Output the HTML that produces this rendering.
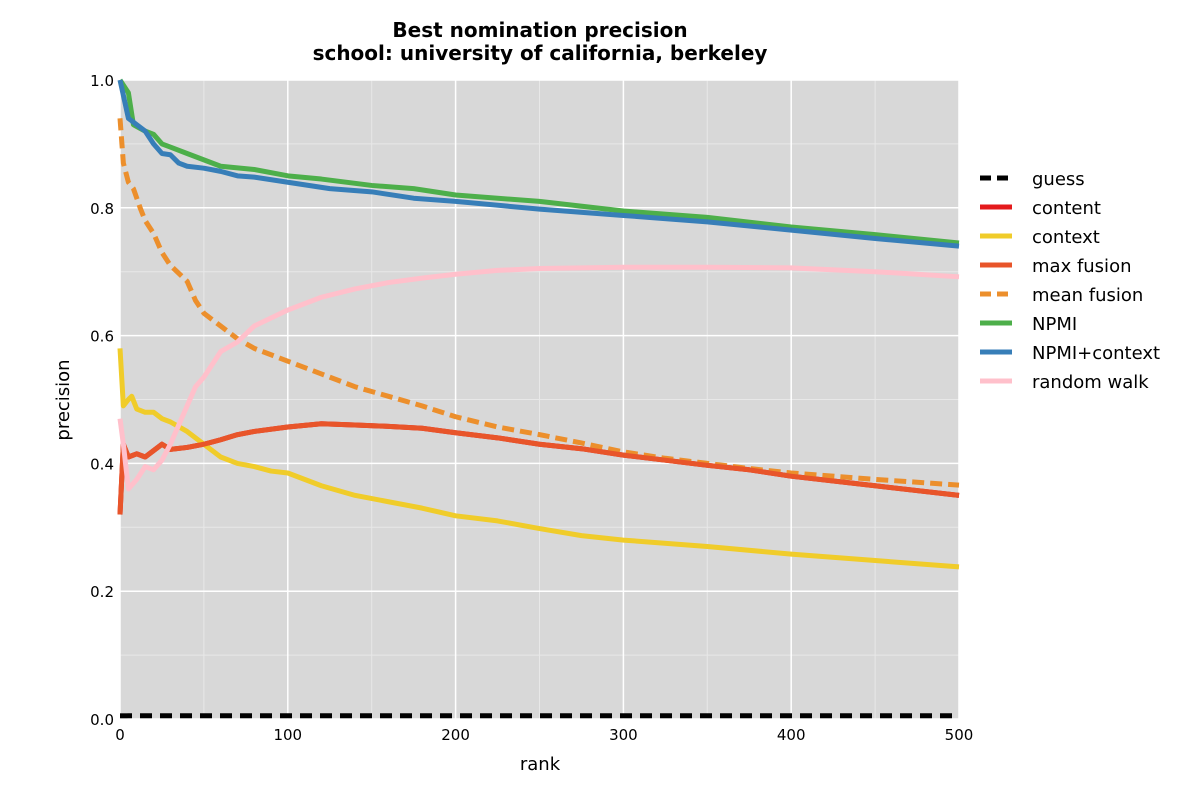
<!DOCTYPE html>
<html><head><meta charset="utf-8"><style>
body{margin:0;background:#fff;}
svg{font-family:"DejaVu Sans","Liberation Sans",sans-serif;}
</style></head><body>
<svg id="chart" width="1200" height="800" xmlns="http://www.w3.org/2000/svg"></svg>
<script>
const xTicks=[0,100,200,300,400,500];
const yTicks=[0.0,0.2,0.4,0.6,0.8,1.0];
const seriesNames=["guess","content","context","max fusion","mean fusion","NPMI","NPMI+context","random walk"];
const guessX=[0,500];const guessY=[0.005,0.005];
const maxX=[0,2,5,10,15,20,25,30,40,50,60,70,80,100,120,140,160,180,200,225,250,275,300,325,350,375,400,450,500];
const maxY=[0.32,0.43,0.41,0.415,0.41,0.42,0.43,0.422,0.425,0.43,0.437,0.445,0.45,0.457,0.462,0.46,0.458,0.455,0.448,0.44,0.43,0.423,0.413,0.405,0.397,0.39,0.38,0.365,0.35];
const contentX=maxX;const contentY=maxY;
const contextX=[0,2,5,7,10,15,20,25,30,40,50,60,70,80,90,100,120,140,160,180,200,225,250,275,300,350,400,450,500];
const contextY=[0.58,0.49,0.5,0.505,0.485,0.48,0.48,0.47,0.465,0.45,0.43,0.41,0.40,0.395,0.388,0.385,0.365,0.35,0.34,0.33,0.318,0.31,0.298,0.287,0.28,0.27,0.258,0.248,0.238];
const meanX=[0,2,5,8,12,15,20,25,30,40,45,50,60,70,80,90,100,120,140,160,180,200,225,250,275,300,325,350,375,400,450,500];
const meanY=[0.94,0.87,0.84,0.83,0.8,0.78,0.76,0.73,0.71,0.685,0.655,0.635,0.615,0.595,0.58,0.57,0.56,0.54,0.52,0.505,0.49,0.473,0.457,0.445,0.432,0.418,0.408,0.4,0.392,0.385,0.375,0.366];
const npmiX=[0,5,8,15,20,25,30,40,50,60,80,100,120,150,175,200,250,300,350,400,450,500];
const npmiY=[1.0,0.98,0.93,0.92,0.915,0.90,0.895,0.885,0.875,0.865,0.86,0.85,0.845,0.835,0.83,0.82,0.81,0.795,0.785,0.77,0.758,0.745];
const npmicX=[0,5,10,15,20,25,30,35,40,50,60,70,80,100,125,150,175,200,250,300,350,400,450,500];
const npmicY=[1.0,0.94,0.93,0.92,0.90,0.885,0.883,0.87,0.865,0.862,0.857,0.85,0.848,0.84,0.83,0.825,0.815,0.81,0.798,0.788,0.778,0.765,0.752,0.74];
const rwX=[0,2,5,10,15,20,25,30,35,40,45,50,55,60,70,80,100,120,140,160,180,200,225,250,300,350,400,450,500];
const rwY=[0.47,0.43,0.36,0.375,0.395,0.39,0.405,0.43,0.46,0.49,0.52,0.535,0.555,0.575,0.59,0.615,0.64,0.66,0.673,0.683,0.69,0.696,0.702,0.705,0.707,0.707,0.706,0.7,0.692];

const L=120,R=959,T=80,B=719;
const sx=v=>L+(v-0)/(500-0)*(R-L);
const sy=v=>B-(v-0)/(1-0)*(B-T);
const svg=document.getElementById('chart');
const NS="http://www.w3.org/2000/svg";
function mk(tag,attrs,parent){const e=document.createElementNS(NS,tag);for(const k in attrs)e.setAttribute(k,attrs[k]);(parent||svg).appendChild(e);return e;}
const bg=mk('rect',{x:L,y:T,width:R-L,height:B-T,fill:'#d8d8d8'});


for(let v=50;v<500;v+=100){const g=mk('line',{x1:sx(v),x2:sx(v),y1:T,y2:B,stroke:'#e8e8e8','stroke-width':1});}
for(let v=0.1;v<1;v+=0.2){const g=mk('line',{x1:L,x2:R,y1:sy(v),y2:sy(v),stroke:'#e8e8e8','stroke-width':1});}
xTicks.forEach(v=>{const g=mk('line',{x1:sx(v),x2:sx(v),y1:T,y2:B,stroke:'#fff','stroke-width':1.5});
const t=mk('text',{x:sx(v),y:B+21,'text-anchor':'middle','font-size':15,fill:'#000'});t.textContent=v;});
yTicks.forEach(v=>{const g=mk('line',{x1:L,x2:R,y1:sy(v),y2:sy(v),stroke:'#fff','stroke-width':1.5});
const t=mk('text',{x:L-6,y:sy(v)+6,'text-anchor':'end','font-size':15,fill:'#000'});t.textContent=v.toFixed(1);});
const styles=[
 [guessX,guessY,'#000','12,8'],
 [contentX,contentY,'#e41a1c',''],
 [contextX,contextY,'#f0cc2a',''],
 [maxX,maxY,'#e8552a',''],
 [meanX,meanY,'#ec8f2c','12,6'],
 [npmiX,npmiY,'#4daf4a',''],
 [npmicX,npmicY,'#377eb8',''],
 [rwX,rwY,'#ffc0cb','']];
const order=[1,2,4,3,7,5,6,0];
order.forEach(i=>{const [xs,ys,c,d]=styles[i];
 const p=mk('polyline',{points:xs.map((x,j)=>sx(x)+','+sy(ys[j])).join(' '),fill:'none',stroke:c,'stroke-width':5,'stroke-dasharray':d,'stroke-linejoin':'round'});
 
 });
seriesNames.forEach((n,i)=>{const y=178+i*29;const [,,c,d]=styles[i];
 const g=mk('g',{});
 mk('line',{x1:980,x2:1012,y1:y,y2:y,stroke:c,'stroke-width':5,'stroke-dasharray':d?'11,6':''},g);
 const t=mk('text',{x:1032,y:y+7,'font-size':18,fill:'#000'},g);t.textContent=n;});
const t1=mk('text',{x:540,y:37,'text-anchor':'middle','font-size':20,'font-weight':'bold'});t1.textContent='Best nomination precision';
const t2=mk('text',{x:540,y:60,'text-anchor':'middle','font-size':20,'font-weight':'bold'});t2.textContent='school: university of california, berkeley';
const xl=mk('text',{x:540,y:770,'text-anchor':'middle','font-size':18});xl.textContent='rank';
const yl=mk('text',{x:69,y:400,'text-anchor':'middle','font-size':18,transform:'rotate(-90 69 400)'});yl.textContent='precision';
</script>
</body></html>
